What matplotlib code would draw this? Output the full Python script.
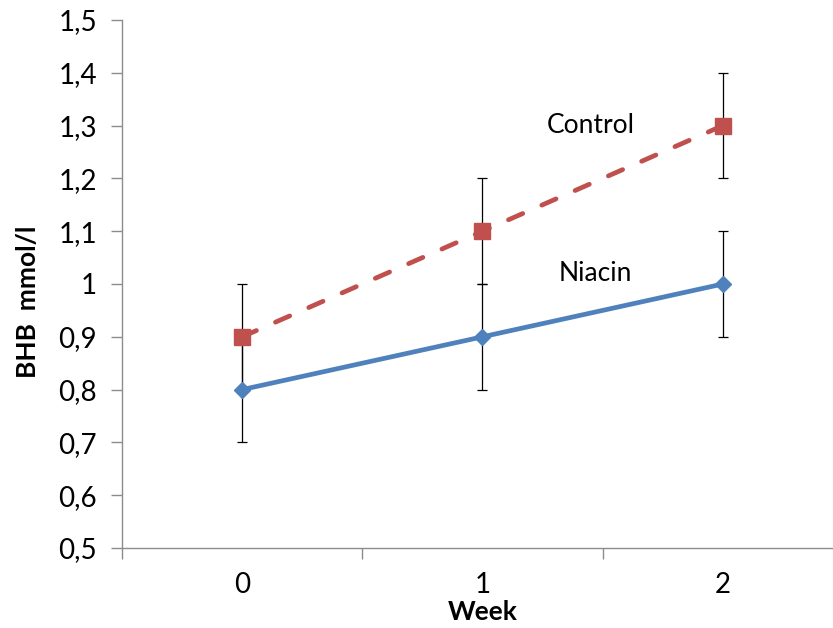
import numpy as np
import matplotlib
matplotlib.use("Agg")
import matplotlib.pyplot as plt

# data
weeks = ["0", "1", "2"]
control = [0.9, 1.1, 1.3]
control_err = [0.1, 0.1, 0.1]
niacin = [0.8, 0.9, 1.0]
niacin_err = [0.1, 0.1, 0.1]
y_ticks = [0.5, 0.6, 0.7, 0.8, 0.9, 1.0, 1.1, 1.2, 1.3, 1.4, 1.5]
y_labels = ["0,5", "0,6", "0,7", "0,8", "0,9", "1", "1,1", "1,2", "1,3", "1,4", "1,5"]

plt.rcParams['font.family'] = ['Lato', 'DejaVu Sans']

fig = plt.figure(figsize=(8.33, 6.28), dpi=100)
ax = fig.add_axes([122 / 833, 80 / 628, (843 - 122) / 833, 528 / 628])

x = np.arange(len(weeks))
axis_col = '#8c8c8c'

# error bars (thin black, small caps)
ax.errorbar(x, control, yerr=control_err, fmt='none', ecolor='black',
            elinewidth=0.9, capsize=3.5, capthick=0.9, zorder=2)
ax.errorbar(x, niacin, yerr=niacin_err, fmt='none', ecolor='black',
            elinewidth=0.9, capsize=3.5, capthick=0.9, zorder=2)

ax.plot(x, control, color='#C0504D', lw=3.4, ls=(0, (3.3, 4.4)),
        dash_capstyle='round',
        marker='s', ms=11, mec='#C0504D', mfc='#C0504D', zorder=3)
ax.plot(x, niacin, color='#4F81BD', lw=3.4, ls='-',
        marker='D', ms=8.5, mec='#4F81BD', mfc='#4F81BD', zorder=3)

ax.text(1.45, 1.3, "Control", fontsize=19, ha='center', va='center')
ax.text(1.47, 1.02, "Niacin", fontsize=19, ha='center', va='center')

ax.set_xlim(-0.5, 2.5)
ax.set_ylim(0.5, 1.5)
ax.set_yticks(y_ticks)
ax.set_yticklabels(y_labels)
ax.set_xticks(x)
ax.set_xticklabels(weeks)
# tick marks sit between categories, like Excel
ax.set_xticks([-0.5, 0.5, 1.5, 2.5], minor=True)
ax.tick_params(axis='x', which='major', length=0, pad=17, labelsize=20)
ax.tick_params(axis='x', which='minor', length=8, color=axis_col, width=1)
ax.tick_params(axis='y', length=8, color=axis_col, width=1, pad=10, labelsize=20)

for s in ['top', 'right']:
    ax.spines[s].set_visible(False)
for s in ['left', 'bottom']:
    ax.spines[s].set_color(axis_col)
    ax.spines[s].set_linewidth(1)

ax.set_xlabel("Week", fontsize=19, fontweight='bold')
ax.xaxis.set_label_coords((483 - 122) / 721, -(612 - 548) / 528)
ax.set_ylabel("BHB  mmol/l", fontsize=19, fontweight='bold')
ax.yaxis.set_label_coords(-(122 - 28) / 721, (548 - 302) / 528)
ax.xaxis.label.set_va('center')
ax.yaxis.label.set_va('center')

fig.savefig("out.png", dpi=100)
